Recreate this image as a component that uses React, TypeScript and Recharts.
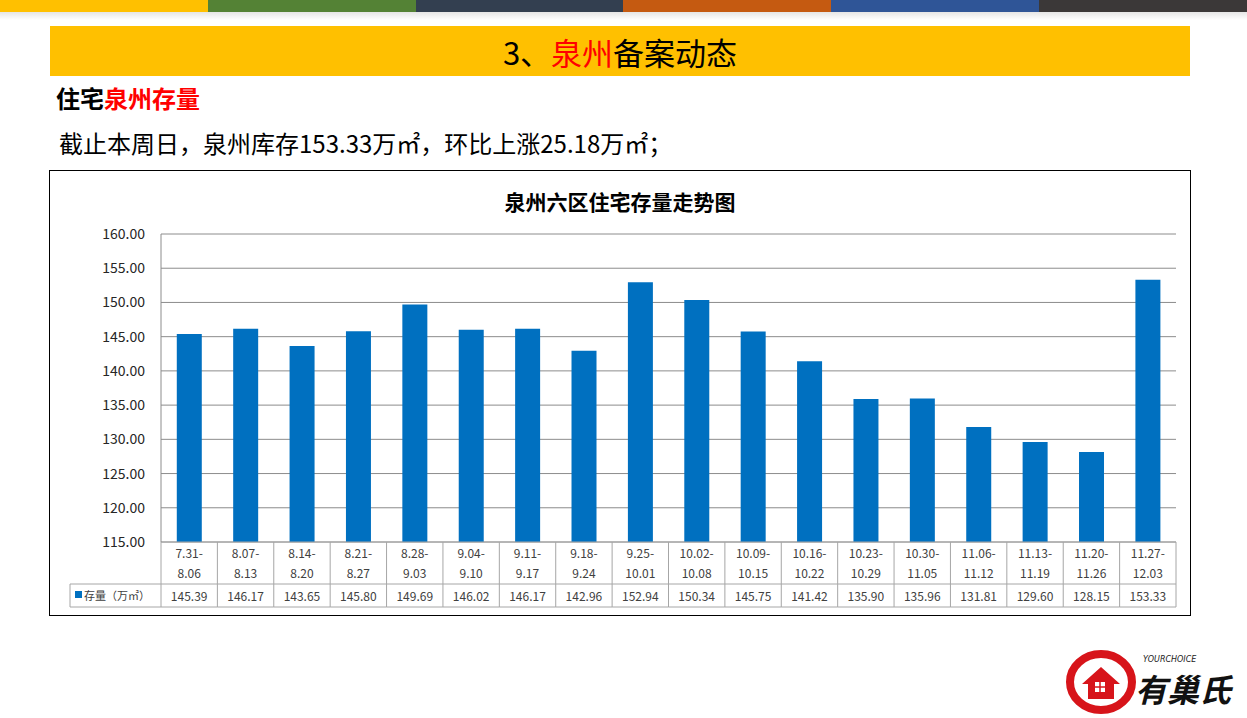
import React from "react";
import { BarChart, Bar, XAxis, YAxis, CartesianGrid } from "recharts";

const categories = [
  "7.31-8.06", "8.07-8.13", "8.14-8.20", "8.21-8.27", "8.28-9.03", "9.04-9.10",
  "9.11-9.17", "9.18-9.24", "9.25-10.01", "10.02-10.08", "10.09-10.15", "10.16-10.22",
  "10.23-10.29", "10.30-11.05", "11.06-11.12", "11.13-11.19", "11.20-11.26", "11.27-12.03",
];
const stockValues = [
  145.39, 146.17, 143.65, 145.8, 149.69, 146.02, 146.17, 142.96, 152.94,
  150.34, 145.75, 141.42, 135.9, 135.96, 131.81, 129.6, 128.15, 153.33,
];
const yTicks = [115, 120, 125, 130, 135, 140, 145, 150, 155, 160];
const stripColors = ["#FFC000", "#548235", "#333F50", "#C55A11", "#2F5597", "#3B3838"];

const seriesName = "存量（万㎡）";
const data = categories.map((c, i) => ({ cat: c, value: stockValues[i] }));

const CW = 1140;
const CH = 444;
const M = { top: 63, right: 14, bottom: 8, left: 51 };
const YW = 60;
const XH = 65;
const PLOT_W = CW - M.left - M.right - YW;
const BW = PLOT_W / categories.length;
const GRID = "#8C8C8C";
const TBL = "#A6A6A6";
const FONT = "'Noto Sans CJK SC', 'Microsoft YaHei', sans-serif";

const TableTick = (props: any) => {
  const { x, y, index, payload } = props;
  const label: string = payload.value;
  const k = label.indexOf("-");
  const l1 = label.slice(0, k + 1);
  const l2 = label.slice(k + 1);
  const x0 = x - BW / 2;
  const x1 = x + BW / 2;
  const v = stockValues[index];
  return (
    <g>
      <line x1={x0} y1={y} x2={x0} y2={y + XH} stroke={TBL} />
      {index === categories.length - 1 && <line x1={x1} y1={y} x2={x1} y2={y + XH} stroke={TBL} />}
      <line x1={x0} y1={y + 42} x2={x1} y2={y + 42} stroke={TBL} />
      <line x1={x0} y1={y + XH} x2={x1} y2={y + XH} stroke={TBL} />
      <text x={x} y={y + 16} textAnchor="middle" fontSize={12} fill="#404040" fontFamily={FONT}>{l1}</text>
      <text x={x} y={y + 36} textAnchor="middle" fontSize={12} fill="#404040" fontFamily={FONT}>{l2}</text>
      <text x={x} y={y + 59} textAnchor="middle" fontSize={12} fill="#404040" fontFamily={FONT}>{v.toFixed(2)}</text>
      {index === 0 && (
        <g>
          <line x1={x0 - 91} y1={y + 42} x2={x0} y2={y + 42} stroke={TBL} />
          <line x1={x0 - 91} y1={y + XH} x2={x0} y2={y + XH} stroke={TBL} />
          <line x1={x0 - 91} y1={y + 42} x2={x0 - 91} y2={y + XH} stroke={TBL} />
          <rect x={x0 - 86} y={y + 49} width={7} height={7} fill="#0070C0" />
          <text x={x0 - 77} y={y + 58} fontSize={11} fill="#404040" fontFamily={FONT}>{seriesName}</text>
        </g>
      )}
    </g>
  );
};

const Logo = () => (
  <svg width={190} height={76} style={{ position: "absolute", left: 1057, top: 638 }}>
    <ellipse cx={44} cy={44} rx={31} ry={28} fill="none" stroke="#D7141A" strokeWidth={8} />
    <path d="M25 46 L44 29 L63 46 L57 46 L57 61 L31 61 L31 46 Z" fill="#D7141A" />
    <rect x={38} y={44} width={10} height={10} fill="#fff" />
    <line x1={43} y1={44} x2={43} y2={54} stroke="#D7141A" strokeWidth={1.5} />
    <line x1={38} y1={49} x2={48} y2={49} stroke="#D7141A" strokeWidth={1.5} />
    <text x={86} y={24} fontSize={8} fontStyle="italic" fontFamily="'DejaVu Sans', sans-serif" fill="#222">YOURCHOICE</text>
    <text x={78} y={64} fontSize={32} fontWeight="bold" fontStyle="italic" fontFamily={FONT} fill="#111">有巢氏</text>
  </svg>
);

export default function App() {
  return (
    <div style={{ position: "absolute", left: 0, top: 0, width: 1247, height: 718, background: "#fff", overflow: "hidden", fontFamily: FONT }}>
      <div style={{ position: "absolute", left: 0, top: 0, width: 1247, height: 12, display: "flex" }}>
        {stripColors.map((c, i) => (
          <div key={i} style={{ flex: 1, background: c }} />
        ))}
      </div>
      <div style={{ position: "absolute", left: 0, top: 12, width: 1247, height: 8, background: "linear-gradient(rgba(0,0,0,0.10), rgba(0,0,0,0))" }} />
      <div style={{ position: "absolute", left: 50, top: 26, width: 1140, height: 50, background: "#FFC000", display: "flex", alignItems: "center", justifyContent: "center", fontSize: 31, color: "#000" }}>
        <span>3、<span style={{ color: "#FF0000" }}>泉州</span>备案动态</span>
      </div>
      <div style={{ position: "absolute", left: 56, top: 81, fontSize: 24, fontWeight: "bold", lineHeight: "34px", color: "#000" }}>
        住宅<span style={{ color: "#FF0000" }}>泉州存量</span>
      </div>
      <div style={{ position: "absolute", left: 59, top: 125, fontSize: 24, lineHeight: "36px", color: "#000" }}>
        截止本周日，泉州库存153.33万㎡，环比上涨25.18万㎡；
      </div>
      <div style={{ position: "absolute", left: 49, top: 170, width: 1142, height: 446, boxSizing: "border-box", border: "1px solid #000" }}>
        <div style={{ position: "absolute", left: 0, top: 16, width: 1140, textAlign: "center", fontSize: 21, fontWeight: "bold", color: "#000", lineHeight: "28px" }}>
          泉州六区住宅存量走势图
        </div>
        <BarChart width={CW} height={CH} data={data} margin={M} barCategoryGap="28%">
          <CartesianGrid vertical={false} stroke={GRID} />
          <XAxis
            dataKey="cat"
            interval={0}
            height={XH}
            tickSize={0}
            tickMargin={0}
            tickLine={false}
            axisLine={{ stroke: TBL }}
            tick={<TableTick />}
          />
          <YAxis
            width={YW}
            domain={[115, 160]}
            ticks={yTicks}
            interval={0}
            tickSize={0}
            tickMargin={16}
            tickLine={false}
            axisLine={{ stroke: GRID }}
            tickFormatter={(v: number) => v.toFixed(2)}
            tick={{ fontSize: 14, fill: "#262626", fontFamily: FONT }}
            allowDataOverflow
          />
          <Bar dataKey="value" fill="#0070C0" isAnimationActive={false} />
        </BarChart>
      </div>
      <Logo />
    </div>
  );
}
